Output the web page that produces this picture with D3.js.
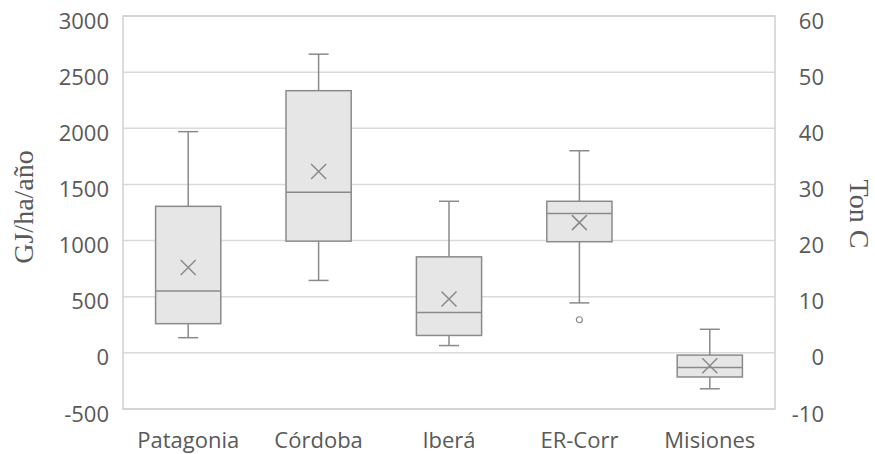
<!DOCTYPE html>
<html>
<head>
<meta charset="utf-8">
<script src="https://cdn.jsdelivr.net/npm/d3@7"></script>
<style>
  body { margin: 0; background: #fff; }
  svg { display: block; }
</style>
</head>
<body>
<div id="wrapper"></div>
<script>
const categories = ["Patagonia", "Córdoba", "Iberá", "ER-Corr", "Misiones"];
const mins = [135, 645, 65, 445, -320];
const q1s = [260, 995, 155, 990, -215];
const medians = [550, 1430, 360, 1240, -130];
const q3s = [1305, 2335, 855, 1350, -20];
const maxs = [1970, 2660, 1350, 1800, 210];
const means = [760, 1615, 480, 1160, -115];
const outliers = [[], [], [], [295], []];

const leftTicks = [-500, 0, 500, 1000, 1500, 2000, 2500, 3000];
const rightTicks = [-10, 0, 10, 20, 30, 40, 50, 60];

const dimensions = {
  width: 875,
  height: 454,
  margin: { top: 16, right: 100, bottom: 45, left: 123 },
};
dimensions.boundedWidth =
  dimensions.width - dimensions.margin.left - dimensions.margin.right;
dimensions.boundedHeight =
  dimensions.height - dimensions.margin.top - dimensions.margin.bottom;

const textColor = "#595959";
const lineColor = "#8a8a8a";

const wrapper = d3
  .select("#wrapper")
  .append("svg")
  .attr("width", dimensions.width)
  .attr("height", dimensions.height);

const bounds = wrapper
  .append("g")
  .attr("transform", `translate(${dimensions.margin.left},${dimensions.margin.top})`);

const xScale = d3
  .scaleBand()
  .domain(categories)
  .range([0, dimensions.boundedWidth]);

const yScale = d3
  .scaleLinear()
  .domain([-500, 3000])
  .range([dimensions.boundedHeight, 0]);

const yRight = d3
  .scaleLinear()
  .domain([-10, 60])
  .range([dimensions.boundedHeight, 0]);

// gridlines
bounds
  .append("g")
  .selectAll("line")
  .data(leftTicks)
  .join("line")
  .attr("x1", 0)
  .attr("x2", dimensions.boundedWidth)
  .attr("y1", (d) => yScale(d))
  .attr("y2", (d) => yScale(d))
  .attr("stroke", "#dadada")
  .attr("stroke-width", 1.5);

// plot frame
bounds
  .append("rect")
  .attr("width", dimensions.boundedWidth)
  .attr("height", dimensions.boundedHeight)
  .attr("fill", "none")
  .attr("stroke", "#d0d0d0")
  .attr("stroke-width", 1.5);

// axes
const font = "'Open Sans', 'Liberation Sans', sans-serif";
const plain = (d) => d.toString();

const yAxis = bounds
  .append("g")
  .call(
    d3.axisLeft(yScale).tickValues(leftTicks).tickFormat(plain).tickSize(0).tickPadding(14)
  );
const yAxis2 = bounds
  .append("g")
  .attr("transform", `translate(${dimensions.boundedWidth},0)`)
  .call(
    d3.axisRight(yRight).tickValues(rightTicks).tickFormat(plain).tickSize(0).tickPadding(49)
  );
yAxis2.selectAll("text").attr("text-anchor", "end");
const xAxis = bounds
  .append("g")
  .attr("transform", `translate(0,${dimensions.boundedHeight})`)
  .call(d3.axisBottom(xScale).tickSize(0).tickPadding(23));

[yAxis, yAxis2, xAxis].forEach((a) => {
  a.select(".domain").remove();
  a.selectAll("text")
    .attr("fill", textColor)
    .style("font-family", font)
    .style("font-size", "22px");
});
[yAxis, yAxis2].forEach((a) => a.selectAll("text").attr("dy", "0.55em"));

// boxes
const boxWidth = xScale.bandwidth() * 0.5;
const capWidth = 20;
const boxes = bounds
  .selectAll(".box")
  .data(categories)
  .join("g")
  .attr("class", "box")
  .attr("transform", (d) => `translate(${xScale(d) + xScale.bandwidth() / 2},0)`);

boxes
  .append("line")
  .attr("y1", (d, i) => yScale(maxs[i]))
  .attr("y2", (d, i) => yScale(q3s[i]))
  .attr("stroke", lineColor)
  .attr("stroke-width", 1.5);
boxes
  .append("line")
  .attr("y1", (d, i) => yScale(q1s[i]))
  .attr("y2", (d, i) => yScale(mins[i]))
  .attr("stroke", lineColor)
  .attr("stroke-width", 1.5);
[maxs, mins].forEach((arr) => {
  boxes
    .append("line")
    .attr("x1", -capWidth / 2)
    .attr("x2", capWidth / 2)
    .attr("y1", (d, i) => yScale(arr[i]))
    .attr("y2", (d, i) => yScale(arr[i]))
    .attr("stroke", lineColor)
    .attr("stroke-width", 1.5);
});
boxes
  .append("rect")
  .attr("x", -boxWidth / 2)
  .attr("width", boxWidth)
  .attr("y", (d, i) => yScale(q3s[i]))
  .attr("height", (d, i) => yScale(q1s[i]) - yScale(q3s[i]))
  .attr("fill", "#e6e6e6")
  .attr("stroke", lineColor)
  .attr("stroke-width", 1.5);
boxes
  .append("line")
  .attr("x1", -boxWidth / 2)
  .attr("x2", boxWidth / 2)
  .attr("y1", (d, i) => yScale(medians[i]))
  .attr("y2", (d, i) => yScale(medians[i]))
  .attr("stroke", lineColor)
  .attr("stroke-width", 1.5);

// mean markers
const m = 7.5;
boxes
  .append("path")
  .attr("d", (d, i) => {
    const y = yScale(means[i]);
    return `M${-m},${y - m}L${m},${y + m}M${-m},${y + m}L${m},${y - m}`;
  })
  .attr("stroke", lineColor)
  .attr("stroke-width", 1.5);

// outliers
boxes
  .selectAll("circle")
  .data((d, i) => outliers[i])
  .join("circle")
  .attr("cy", (d) => yScale(d))
  .attr("r", 3)
  .attr("fill", "#fff")
  .attr("stroke", lineColor)
  .attr("stroke-width", 1.2);

// axis titles
const serif = "'Liberation Serif', 'DejaVu Serif', serif";
wrapper
  .append("text")
  .attr("transform", "translate(33,207) rotate(-90)")
  .attr("text-anchor", "middle")
  .attr("fill", textColor)
  .style("font-family", serif)
  .style("font-size", "28px")
  .text("GJ/ha/año");
wrapper
  .append("text")
  .attr("transform", "translate(850,214) rotate(90)")
  .attr("text-anchor", "middle")
  .attr("fill", textColor)
  .style("font-family", serif)
  .style("font-size", "28px")
  .text("Ton C");
</script>
</body>
</html>
